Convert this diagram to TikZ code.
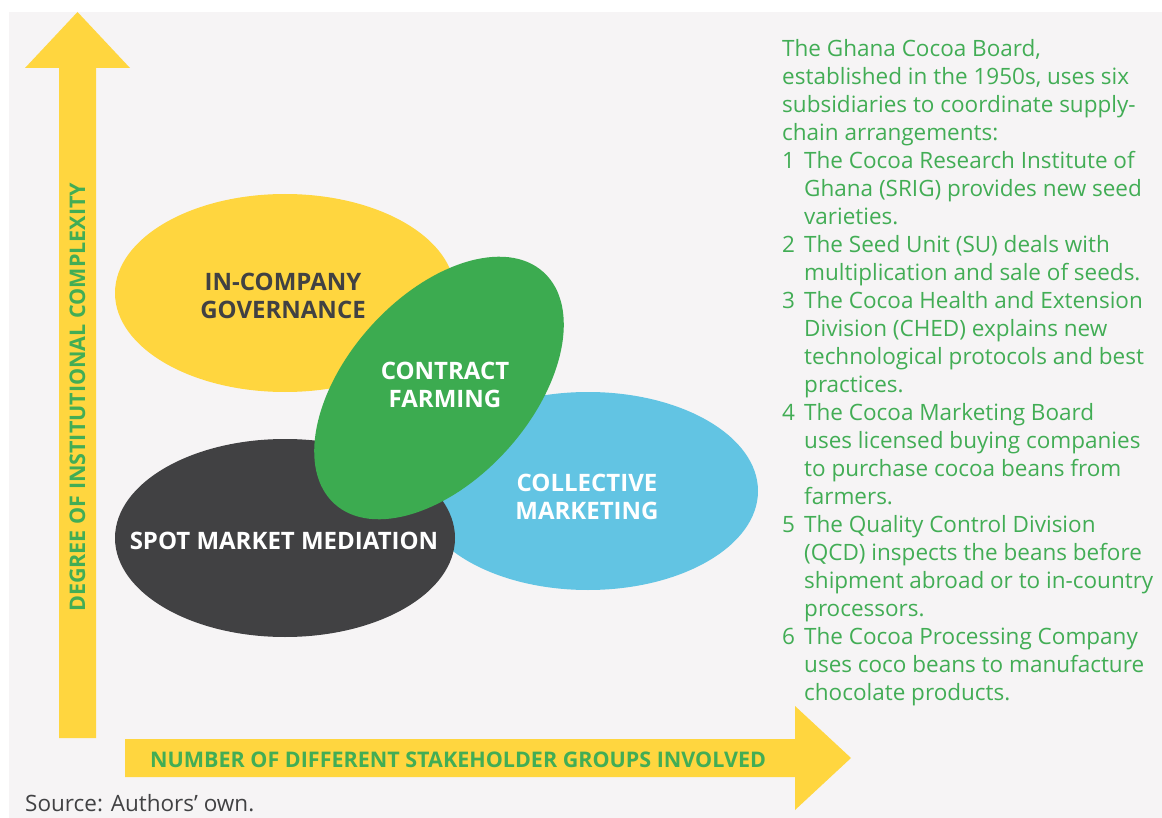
\documentclass[tikz,border=0pt]{standalone}
\usepackage{fontspec}
\setmainfont{Open Sans}
\usetikzlibrary{shapes.geometric}
\definecolor{bggray}{HTML}{F6F4F5}
\definecolor{cocoayellow}{HTML}{FFD63F}
\definecolor{cocoagreen}{HTML}{3CAB50}
\definecolor{cocoadark}{HTML}{414143}
\definecolor{cocoablue}{HTML}{62C4E3}
\definecolor{textgreen}{HTML}{42AD55}
\begin{document}
\begin{tikzpicture}[x=1pt,y=-1pt]
  \tikzstyle{every node}=[inner sep=0pt]
  \tikzstyle{blob}=[ellipse,minimum width=340pt,minimum height=198pt]
  \tikzstyle{caps}=[font=\fontsize{24}{28}\selectfont\bfseries,align=center]
  \tikzstyle{axislabel}=[font=\fontsize{21.5}{24}\selectfont\bfseries,text=textgreen]
  \useasboundingbox (0,0) rectangle (1162,818);
  \fill [bggray] (9,12) rectangle (1162,818);
  % the two axes
  \fill [cocoayellow] (59,738) -- (59,68) -- (25,68) -- (77.5,12) -- (130,68) -- (96,68) -- (96,738) -- cycle;
  \fill [cocoayellow] (125,739) -- (795,739) -- (795,706) -- (851,758) -- (795,810) -- (795,777) -- (125,777) -- cycle;
  \node (ylab) [axislabel,rotate=90,anchor=base west] at (85,612) {DEGREE OF INSTITUTIONAL COMPLEXITY};
  \node (xlab) [axislabel,anchor=base west] at (150,767) {NUMBER OF DIFFERENT STAKEHOLDER GROUPS INVOLVED};
  % the four arrangements
  \node (icg) [blob,fill=cocoayellow] at (285,293) {};
  \node (cm) [blob,fill=cocoablue] at (588,491) {};
  \node (smm) [blob,fill=cocoadark] at (285,538) {};
  \node (cf) [ellipse,fill=cocoagreen,minimum width=312pt,minimum height=184pt,rotate=48] at (439,388) {};
  \node (icgtext) [caps,text=cocoadark] at (283,296) {IN-COMPANY\\GOVERNANCE};
  \node (cftext) [caps,text=white] at (445,385) {CONTRACT\\FARMING};
  \node (cmtext) [caps,text=white] at (587,497) {COLLECTIVE\\MARKETING};
  \node (smmtext) [caps,text=white] at (284,541) {SPOT MARKET MEDIATION};
  % the Ghana box
  \node (ghana) [anchor=north west,align=left,text=textgreen,font=\fontsize{22.5}{28}\selectfont] at (782,39) {%
    The Ghana Cocoa Board,\\
    established in the 1950s, uses six\\
    subsidiaries to coordinate supply-\\
    chain arrangements:\\
    \makebox[22pt][l]{1}The Cocoa Research Institute of\\
    \hspace*{22pt}Ghana (SRIG) provides new seed\\
    \hspace*{22pt}varieties.\\
    \makebox[22pt][l]{2}The Seed Unit (SU) deals with\\
    \hspace*{22pt}multiplication and sale of seeds.\\
    \makebox[22pt][l]{3}The Cocoa Health and Extension\\
    \hspace*{22pt}Division (CHED) explains new\\
    \hspace*{22pt}technological protocols and best\\
    \hspace*{22pt}practices.\\
    \makebox[22pt][l]{4}The Cocoa Marketing Board\\
    \hspace*{22pt}uses licensed buying companies\\
    \hspace*{22pt}to purchase cocoa beans from\\
    \hspace*{22pt}farmers.\\
    \makebox[22pt][l]{5}The Quality Control Division\\
    \hspace*{22pt}(QCD) inspects the beans before\\
    \hspace*{22pt}shipment abroad or to in-country\\
    \hspace*{22pt}processors.\\
    \makebox[22pt][l]{6}The Cocoa Processing Company\\
    \hspace*{22pt}uses coco beans to manufacture\\
    \hspace*{22pt}chocolate products.};
  \node (src) [anchor=base west,text=cocoadark,font=\fontsize{22.5}{24}\selectfont] at (25,811) {Source: Authors’ own.};
\end{tikzpicture}
\end{document}
